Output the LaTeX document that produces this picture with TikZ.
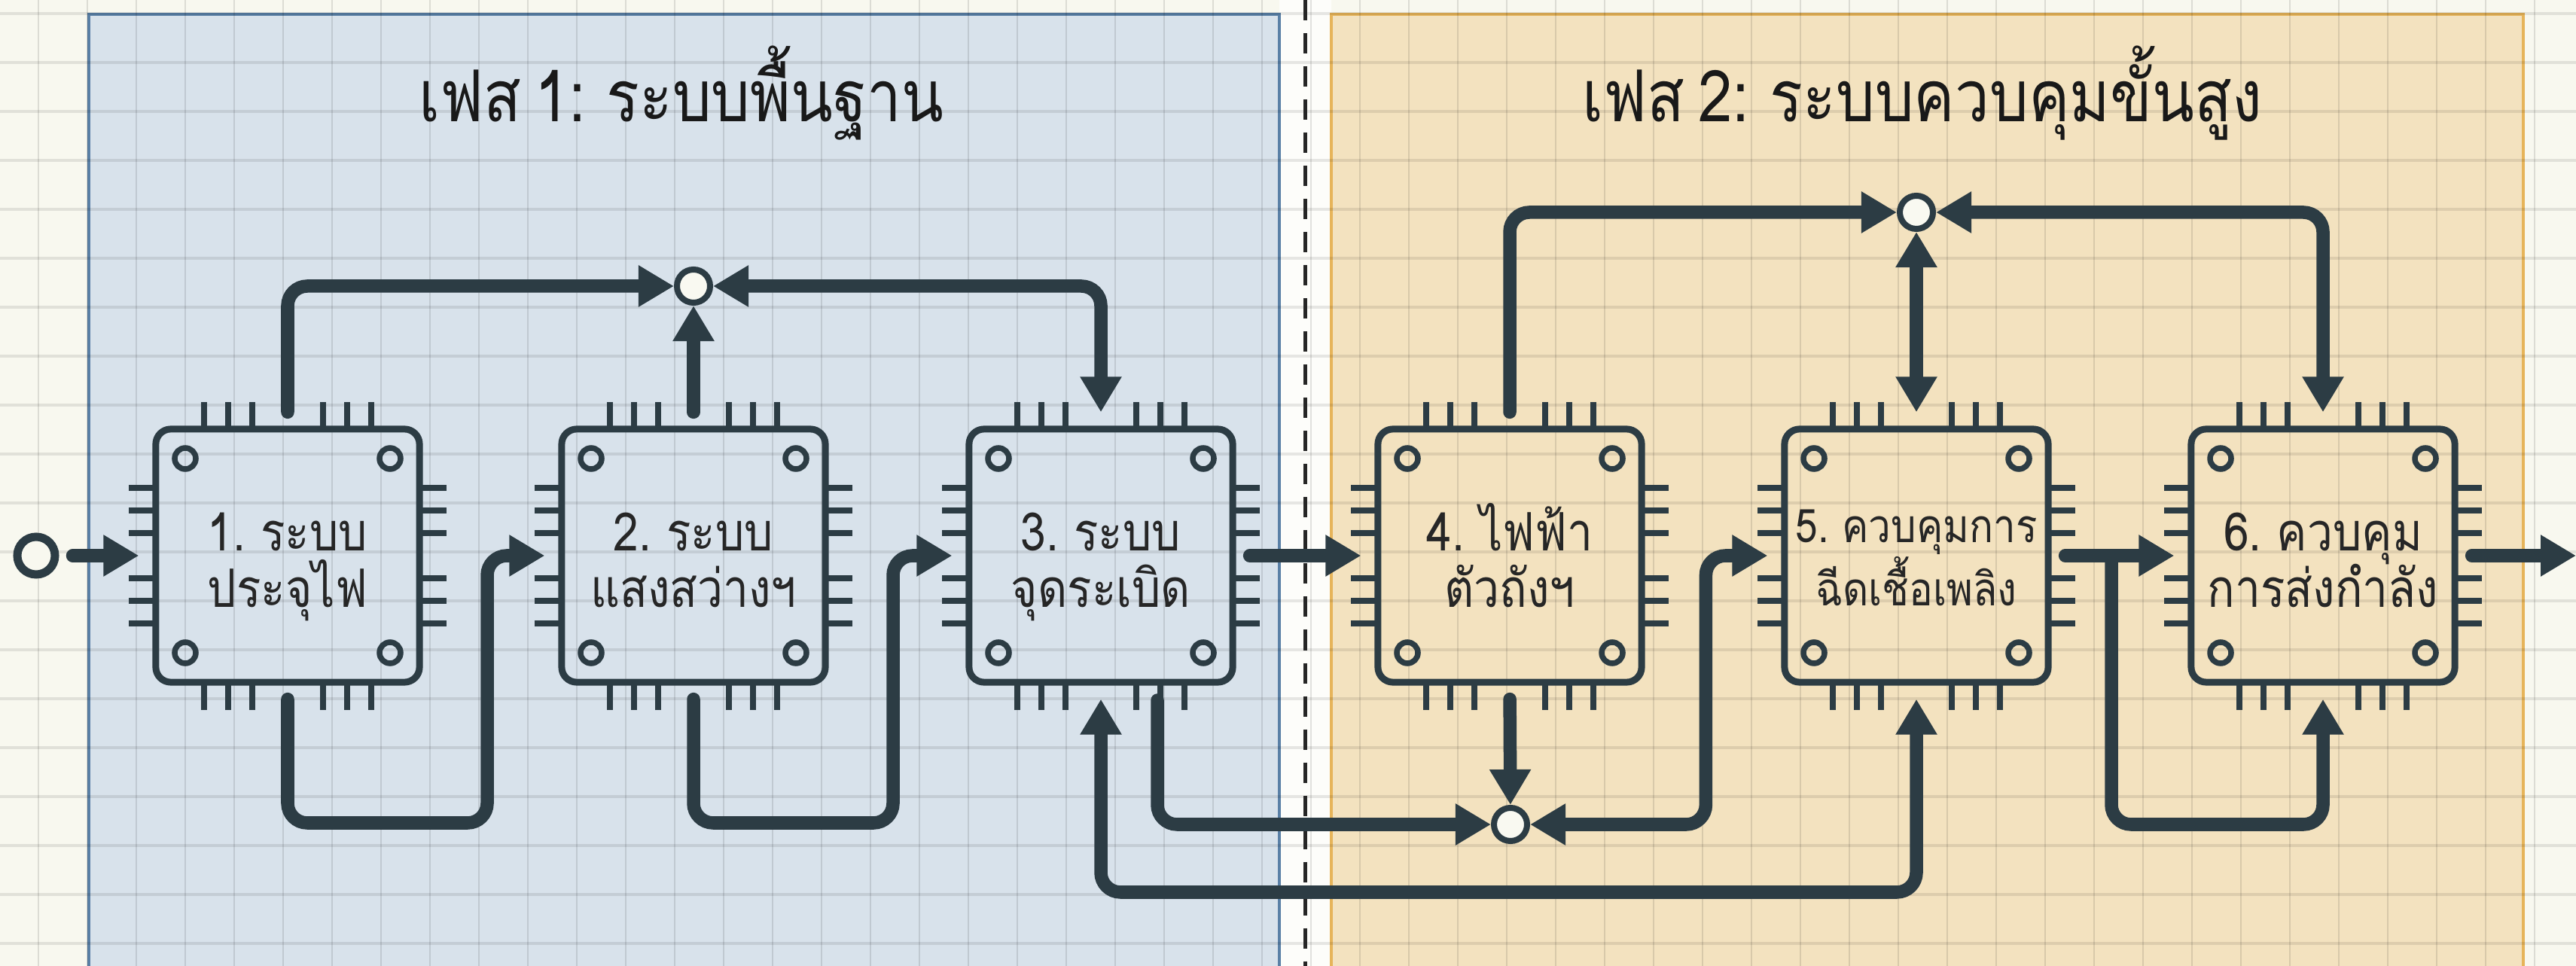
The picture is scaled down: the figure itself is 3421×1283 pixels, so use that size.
\documentclass[tikz,border=0pt]{standalone}
\usepackage{fontspec}
\setmainfont[Script=Thai,FakeStretch=0.86,WordSpace=0.65]{Loma}
\usepackage{tikz}
\usetikzlibrary{arrows.meta,calc}

\definecolor{inkdark}{HTML}{2C3C44}
\definecolor{pagecream}{HTML}{F8F8EF}
\definecolor{bluepanel}{HTML}{D8E2EB}
\definecolor{blueedge}{HTML}{5A80A6}
\definecolor{orangepanel}{HTML}{F3E2BF}
\definecolor{orangeedge}{HTML}{E6B45A}

\tikzset{
    chipbox/.style={draw=inkdark, line width=0.09cm, rounded corners=0.2cm, minimum width=3.5cm, minimum height=3.36cm},
    chiptext/.style={align=center, inner sep=0pt, anchor=base, text=black!85, font=\fontsize{20}{21.6}\selectfont},
    junction/.style={circle, draw=inkdark, fill=pagecream!90!white, line width=0.08cm, minimum size=0.44cm, outer sep=0.04cm, inner sep=0pt},
    terminal/.style={circle, draw=inkdark, fill=pagecream, line width=0.11cm, minimum size=0.5cm, inner sep=0pt},
    wire/.style={draw=inkdark, line width=0.175cm, line cap=round, rounded corners=0.26cm, shorten <=0.18cm, shorten >=0.18cm, -{Triangle[width=0.52cm,length=0.47cm]}},
    bothends/.style={{Triangle[width=0.52cm,length=0.47cm]}-{Triangle[width=0.52cm,length=0.47cm]}},
    pin/.style={draw=inkdark, line width=0.08cm},
    hole/.style={draw=inkdark, line width=0.075cm},
    phasetitle/.style={text=black!90, font=\fontsize{27}{28}\selectfont},
}

\begin{document}
\begin{tikzpicture}[x=0.01cm, y=-0.01cm]
    \useasboundingbox (0,0) rectangle (3421,1283);
    \fill[pagecream] (0,0) rectangle (3421,1283);

    % Phase panels
    \fill[white!70!pagecream] (1699,0) rectangle (1768,1283);
    \filldraw[fill=bluepanel, draw=blueedge, line width=0.04cm] (118,19) rectangle (1699,1300);
    \filldraw[fill=orangepanel, draw=orangeedge, line width=0.04cm] (1768,19) rectangle (3351,1300);

    % Grid
    \foreach \gx in {0,...,52}
        \draw[black, opacity=0.11, line width=0.02cm] (51+65*\gx,0) -- (51+65*\gx,1283);
    \foreach \gy in {0,...,19}
        \draw[black, opacity=0.09, line width=0.035cm] (0,18+65*\gy) -- (3421,18+65*\gy);

    % Divider
    \draw[black!85, line width=0.05cm, dash pattern=on 0.27cm off 0.17cm] (1733,0) -- (1733,1283);

    % Titles
    \node[phasetitle] (titlea) at (905,124) {เฟส 1: ระบบพื้นฐาน};
    \node[phasetitle] (titleb) at (2553,124) {เฟส 2: ระบบควบคุมขั้นสูง};

    % Chips
    \foreach \nm/\cx in {chipa/382, chipb/921, chipc/1462, chipd/2005, chipe/2545, chipf/3085} {
        \node[chipbox] (\nm) at (\cx,738) {};
    }
    \node[chiptext] (texta) at (382,807) {1. ระบบ\\ประจุไฟ};
    \node[chiptext] (textb) at (921,807) {2. ระบบ\\แสงสว่างฯ};
    \node[chiptext] (textc) at (1462,807) {3. ระบบ\\จุดระเบิด};
    \node[chiptext] (textd) at (2005,807) {4. ไฟฟ้า\\ตัวถังฯ};
    \node[chiptext, font=\fontsize{17.5}{21.6}\selectfont] (texte) at (2545,805) {5. ควบคุมการ\\ฉีดเชื้อเพลิง};
    \node[chiptext] (textf) at (3085,807) {6. ควบคุม\\การส่งกำลัง};

    % Pins and corner holes
    \foreach \cx in {382,921,1462,2005,2545,3085} {
        \foreach \dx in {-111,-79,-47,47,79,111} {
            \draw[pin] (\cx+\dx,534) -- (\cx+\dx,570);
            \draw[pin] (\cx+\dx,906) -- (\cx+\dx,943);
        }
        \foreach \dy in {-90,-60,-30,30,60,90} {
            \draw[pin] (\cx-211,738+\dy) -- (\cx-175,738+\dy);
            \draw[pin] (\cx+175,738+\dy) -- (\cx+211,738+\dy);
        }
        \foreach \dx in {-136,136}
            \foreach \dy in {-129,129}
                \draw[hole] (\cx+\dx,738+\dy) circle (0.14cm);
    }

    % Junctions and ends
    \node[junction] (ja) at (921,380) {};
    \node[junction] (jb) at (2006,1095) {};
    \node[junction] (jc) at (2545,282) {};
    \node[terminal] (inp) at (48,738) {};
    \coordinate (outp) at (3421,738);

    % Phase 1 wiring
    \draw[wire] (inp) -- (chipa.west);
    \draw[wire, shorten >=0pt] (chipa.north) |- (ja);
    \draw[wire, shorten >=0pt] (chipb.north) -- (ja);
    \draw[wire, bothends, shorten <=0pt] (ja) -| (chipc.north);
    \coordinate (abturn) at (647,1093);
    \draw[wire] (chipa.south) |- (abturn) |- (chipb.west);
    \coordinate (bcturn) at (1186,1093);
    \draw[wire] (chipb.south) |- (bcturn) |- (chipc.west);

    % Across the divider
    \draw[wire] (chipc.east) -- (chipd.west);
    \coordinate (cdrop) at (1537,930);
    \draw[wire, shorten <=0pt, shorten >=0pt] (cdrop) |- (jb);
    \coordinate (busturn) at (1462,1185);
    \draw[wire, bothends] (chipc.south) -- (busturn) -| (chipe.south);

    % Phase 2 wiring
    \draw[wire, shorten >=0pt] (chipd.south) -- (jb);
    \draw[wire, bothends, shorten <=0pt] (jb) -| ($(chipe.west)+(-100,0)$) -- (chipe.west);
    \draw[wire, shorten >=0pt] (chipd.north) |- (jc);
    \draw[wire, bothends, shorten <=0pt] (jc) -- (chipe.north);
    \draw[wire, bothends, shorten <=0pt] (jc) -| (chipf.north);
    \draw[wire] (chipe.east) -- (chipf.west);
    \coordinate (efdrop) at (2804,738);
    \coordinate (efturn) at (2804,1095);
    \draw[wire, shorten <=0pt] (efdrop) -- (efturn) -| (chipf.south);
    \draw[wire, shorten >=0pt] (chipf.east) -- (outp);
\end{tikzpicture}
\end{document}
